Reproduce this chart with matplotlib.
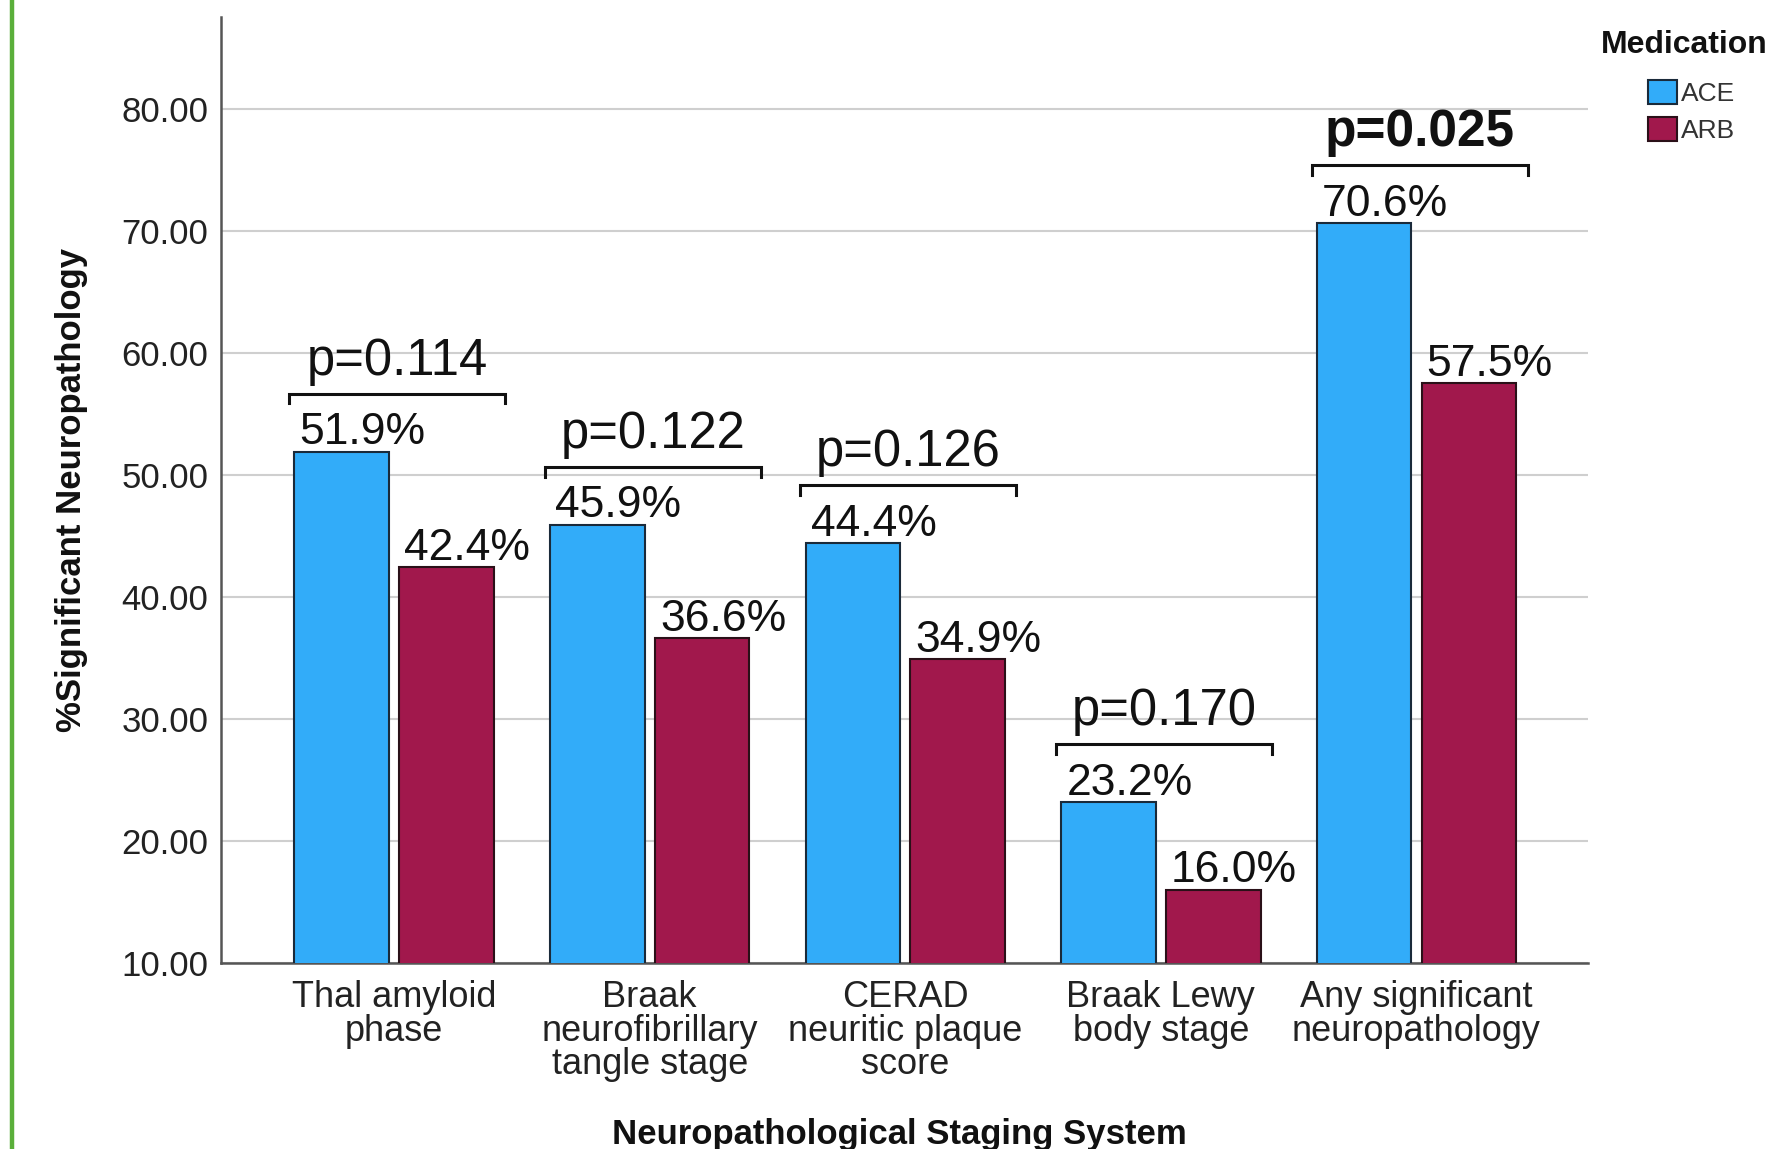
import matplotlib
matplotlib.use("Agg")
import matplotlib.pyplot as plt
import numpy as np
from matplotlib.patches import Patch
from matplotlib.lines import Line2D

plt.rcParams['font.family'] = ['Liberation Sans', 'DejaVu Sans']

# ---- data ----
categories = ["Thal amyloid\nphase",
              "Braak\nneurofibrillary\ntangle stage",
              "CERAD\nneuritic plaque\nscore",
              "Braak Lewy\nbody stage",
              "Any significant\nneuropathology"]
ace_values = [51.9, 45.9, 44.4, 23.2, 70.6]
arb_values = [42.4, 36.6, 34.9, 16.0, 57.5]
p_values = [0.114, 0.122, 0.126, 0.170, 0.025]
series_names = ["ACE", "ARB"]
y_ticks = [10, 20, 30, 40, 50, 60, 70, 80]

ace_color = "#32ACF9"
arb_color = "#A1184C"

W, H = 1781, 1149
fig = plt.figure(figsize=(W / 100, H / 100), dpi=100)
ax = fig.add_axes([0.1241, 0.1619, 0.7675, 0.8233])

x = np.arange(len(categories))
bw = 0.37
off = 0.205
ax.bar(x - off, ace_values, width=bw, bottom=0, color=ace_color,
       edgecolor="#1a2a3a", linewidth=1.5, label=series_names[0], zorder=3)
ax.bar(x + off, arb_values, width=bw, bottom=0, color=arb_color,
       edgecolor="#2a1018", linewidth=1.5, label=series_names[1], zorder=3)

ax.set_xlim(-0.677, 4.671)
ax.set_ylim(10, 87.5)
ax.set_yticks(y_ticks)
ax.set_yticklabels([f"{v:.2f}" for v in y_ticks])
ax.set_xticks(x)
ax.set_xticklabels(categories, linespacing=0.96)
ax.tick_params(axis='y', length=0, pad=9, labelsize=25, labelcolor="#222222")
ax.tick_params(axis='x', length=0, pad=12, labelsize=26, labelcolor="#222222")

ax.grid(axis='y', color="#CFCFCF", linewidth=1.5, zorder=0)
ax.set_axisbelow(True)
for s in ["top", "right"]:
    ax.spines[s].set_visible(False)
for s in ["left", "bottom"]:
    ax.spines[s].set_color("#555555")
    ax.spines[s].set_linewidth(1.8)

# value labels
for i in range(len(categories)):
    ax.text(x[i] - off - bw / 2 + 0.02, ace_values[i] + 0.6, f"{ace_values[i]:.1f}%",
            ha='left', va='baseline', fontsize=32, color="#111111", zorder=5)
    ax.text(x[i] + off - bw / 2 + 0.02, arb_values[i] + 0.6, f"{arb_values[i]:.1f}%",
            ha='left', va='baseline', fontsize=32, color="#111111", zorder=5)

# brackets and p-values
for i in range(len(categories)):
    b = ace_values[i] + 4.75
    xl, xr = x[i] - 0.41, x[i] + 0.435
    ax.plot([xl, xl, xr, xr], [b - 0.8, b, b, b - 0.8], color="#111111",
            linewidth=2.2, solid_joinstyle='miter', zorder=5)
    sig = p_values[i] < 0.05
    ax.text(x[i] + 0.012, b + 1.55, f"p={p_values[i]:.3f}", ha='center', va='baseline',
            fontsize=37 if sig else 36.5, fontweight='bold' if sig else 'normal',
            color="#111111", zorder=5)

ax.set_ylabel("%Significant Neuropathology", fontsize=25, fontweight='bold', color="#111111")
ax.yaxis.set_label_coords(-0.0975, 0.5)
ax.set_xlabel("Neuropathological Staging System", fontsize=25, fontweight='bold', color="#111111")
ax.xaxis.set_label_coords(0.496, -0.1636)

# legend
fig.text(1601 / W, 1 - 53 / H, "Medication", ha='left', va='baseline',
         fontsize=23, fontweight='bold', color="#111111")
handles = [Patch(facecolor=ace_color, edgecolor="#1a2a3a", linewidth=1.5),
           Patch(facecolor=arb_color, edgecolor="#2a1018", linewidth=1.5)]
leg = fig.legend(handles, series_names, loc='upper left',
                 bbox_to_anchor=(1648 / W, 1 - 80 / H), frameon=False,
                 fontsize=19, handlelength=1.1, handleheight=1.05, handletextpad=0.15,
                 labelspacing=0.4, borderpad=0, borderaxespad=0)
for t in leg.get_texts():
    t.set_color("#333333")

# green frame line at left edge
fig.add_artist(Line2D([12.5 / W, 12.5 / W], [0, 1], transform=fig.transFigure,
                      color="#5AAF3A", linewidth=3.2))

fig.savefig("out.png", dpi=100)
